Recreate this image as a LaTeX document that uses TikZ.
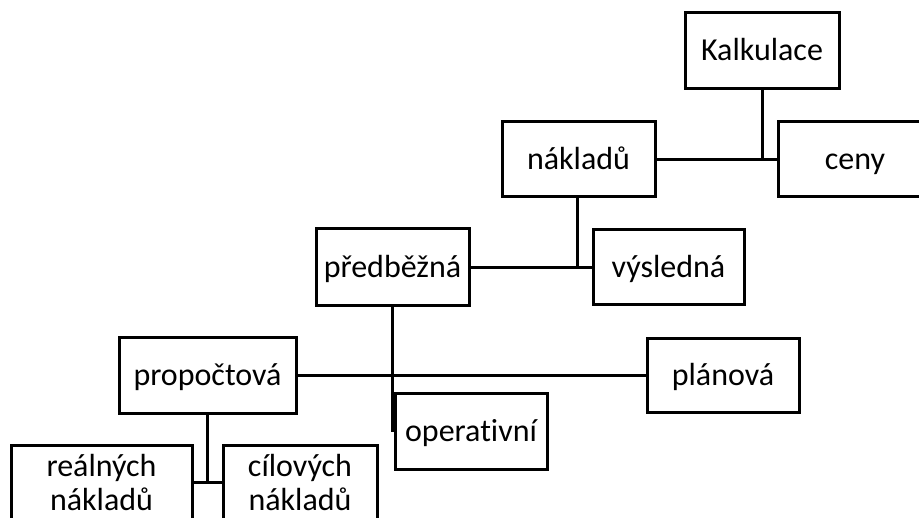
\documentclass[tikz,border=0pt]{standalone}
\usepackage{fontspec}
\setmainfont[Ligatures=NoCommon]{Carlito}
\begin{document}
\begin{tikzpicture}[x=1pt,y=-1pt,
  box/.style={draw=black,line width=3pt,rectangle,inner sep=0pt,
    font=\fontsize{32}{34}\selectfont,align=center},
  one/.style={box,text height=22pt,text depth=2pt},
  conn/.style={draw=black,line width=3pt}]
\useasboundingbox (0,0) rectangle (919,518);
\clip (0,0) rectangle (919,518);
\node[one,minimum width=154pt,minimum height=76pt] (kalk) at (762,51) {Kalkulace};
\node[one,minimum width=153pt,minimum height=75pt] (nakl) at (578.5,159.5) {nákladů};
\node[one,minimum width=154pt,minimum height=75pt] (ceny) at (855,159.5) {ceny};
\node[one,minimum width=153pt,minimum height=77pt] (pred) at (392.5,267.5) {předběžná};
\node[one,minimum width=151pt,minimum height=75pt] (vysl) at (668.5,267.5) {výsledná};
\node[one,minimum width=177pt,minimum height=76pt] (prop) at (207.5,376) {propočtová};
\node[one,minimum width=152pt,minimum height=74pt] (plan) at (723,376) {plánová};
\node[one,minimum width=152pt,minimum height=76pt] (oper) at (471,432) {operativní};
\node[box,minimum width=181pt,minimum height=74pt] (real) at (101.5,483) {reálných\\nákladů};
\node[box,minimum width=154pt,minimum height=74pt] (cil) at (300,483) {cílových\\nákladů};
\coordinate (j1) at (kalk.south |- ceny.west);
\coordinate (j2) at (577,0 |- vysl.west);
\coordinate (j3) at (pred.south |- oper.west);
\coordinate (j4) at (prop.south |- cil.west);
\draw[conn] (kalk.south) -- (j1);
\draw[conn] (nakl.east) -- (ceny.west);
\draw[conn] (577,0 |- nakl.south) -- (j2);
\draw[conn] (pred.east) -- (vysl.west);
\draw[conn] (pred.south) -- (j3);
\draw[conn] (prop.east) -- (plan.west);
\draw[conn] (prop.south) -- (j4);
\draw[conn] (real.east) -- (cil.west);
\end{tikzpicture}
\end{document}
